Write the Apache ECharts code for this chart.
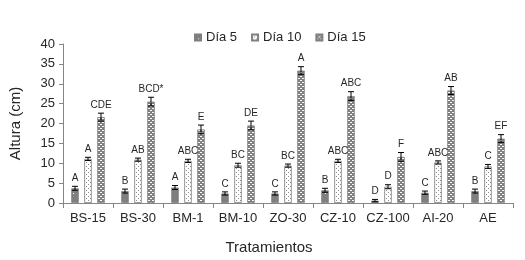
<!DOCTYPE html>
<html>
<head>
<meta charset="utf-8">
<script src="https://cdn.jsdelivr.net/npm/echarts@6/dist/echarts.min.js"></script>
<style>html,body{margin:0;padding:0;background:#fff}#c{width:525px;height:260px}</style>
</head>
<body>
<div id="c"></div>
<script>
var categories = ['BS-15','BS-30','BM-1','BM-10','ZO-30','CZ-10','CZ-100','AI-20','AE'];
var seriesNames = ['Día 5','Día 10','Día 15'];
var dia5  = [3.7, 3.0, 3.9, 2.4, 2.4, 3.2, 0.6, 2.6, 3.0];
var dia10 = [11.1, 10.9, 10.6, 9.5, 9.4, 10.6, 4.1, 10.2, 9.2];
var dia15 = [21.6, 25.5, 18.5, 19.5, 33.3, 26.9, 11.6, 28.3, 16.2];
var err5  = [0.5, 0.5, 0.5, 0.4, 0.4, 0.5, 0.3, 0.4, 0.5];
var err10 = [0.4, 0.4, 0.4, 0.5, 0.4, 0.4, 0.5, 0.4, 0.5];
var err15 = [1.0, 1.1, 1.1, 1.1, 1.0, 1.1, 1.1, 1.0, 1.0];
var let5  = ['A','B','A','C','C','B','D','C','B'];
var let10 = ['A','AB','ABC','BC','BC','ABC','D','ABC','C'];
var let15 = ['CDE','BCD*','E','DE','A','ABC','F','AB','EF'];
var yTicks = [0,5,10,15,20,25,30,35,40];

function tile(w,h,bg,fg,pts){
  var c=document.createElement('canvas');c.width=w;c.height=h;
  var x=c.getContext('2d');x.fillStyle=bg;x.fillRect(0,0,w,h);x.fillStyle=fg;
  pts.forEach(function(p){x.fillRect(p[0],p[1],p[2]||1,p[3]||1);});
  return {image:c,repeat:'repeat'};
}
var pat5 = tile(7,9,'#7f7f7f','#ffffff',[[3,4]]);
var pat10 = tile(4,4,'#ffffff','#8a8a8a',[[0,0],[2,2]]);
var pat15 = tile(4,4,'#808080','#ffffff',[[0,0,2,1],[2,2,2,1]]);

var values=[dia5,dia10,dia15], errs=[err5,err10,err15], lets=[let5,let10,let15], pats=[pat5,pat10,pat15];
var BW=7.5, GAP=5.5;
var txt='#262626', ff='"Liberation Sans", Arial, sans-serif';

var series=[];
for(var s=0;s<3;s++){
  series.push({name:seriesNames[s],type:'bar',data:values[s],barWidth:BW,barGap:(GAP/BW*100)+'%',
    itemStyle:{color:pats[s],borderColor:'#7f7f7f',borderWidth:0.8},emphasis:{disabled:true},z:2});
}
for(var s2=0;s2<3;s2++){
  (function(si){
    var d=values[si].map(function(v,i){return [i,v,errs[si][i]];});
    series.push({type:'custom',silent:true,z:5,data:d,
      renderItem:function(params,api){
        var i=api.value(0),v=api.value(1),e=api.value(2);
        var c=api.coord([i,v]);
        var x=c[0]+(si-1)*(BW+GAP);
        var top=api.coord([i,v+e])[1], bot=api.coord([i,v-e])[1];
        var hw=3;
        return {type:'group',children:[
          {type:'line',shape:{x1:x,y1:top,x2:x,y2:bot},style:{stroke:'#000',lineWidth:1}},
          {type:'line',shape:{x1:x-hw,y1:top,x2:x+hw,y2:top},style:{stroke:'#000',lineWidth:1}},
          {type:'line',shape:{x1:x-hw,y1:bot,x2:x+hw,y2:bot},style:{stroke:'#000',lineWidth:1}},
          {type:'text',style:{text:lets[si][i],x:x,y:top-3,align:'center',verticalAlign:'bottom',fill:txt,font:'10px '+ff}}
        ]};
      }});
  })(s2);
}

var chart=echarts.init(document.getElementById('c'),null,{renderer:'canvas'});
chart.setOption({
  animation:false,
  backgroundColor:'#fff',
  legend:{data:seriesNames,left:189,top:26,itemWidth:6,itemHeight:6,itemGap:14,
    textStyle:{fontFamily:ff,fontSize:13,color:txt},icon:'rect'},
  grid:{left:63,right:12,top:44,bottom:57,containLabel:false},
  xAxis:{type:'category',data:categories,
    axisLine:{lineStyle:{color:'#868686'}},
    axisTick:{show:true,length:5,lineStyle:{color:'#868686'}},
    axisLabel:{fontFamily:ff,fontSize:13,color:txt,margin:9,interval:0},
    name:'Tratamientos',nameLocation:'middle',nameGap:37,
    nameTextStyle:{fontFamily:ff,fontSize:15,color:txt,padding:[0,38,0,0]}},
  yAxis:{type:'value',min:yTicks[0],max:yTicks[yTicks.length-1],interval:5,
    axisLine:{show:true,lineStyle:{color:'#868686'}},
    axisTick:{show:true,length:4,lineStyle:{color:'#868686'}},
    splitLine:{show:false},
    axisLabel:{fontFamily:ff,fontSize:13,color:txt,margin:8},
    name:'Altura (cm)',nameLocation:'middle',nameGap:40,nameRotate:90,
    nameTextStyle:{fontFamily:ff,fontSize:15,color:txt}},
  series:series
});
</script>
</body>
</html>
